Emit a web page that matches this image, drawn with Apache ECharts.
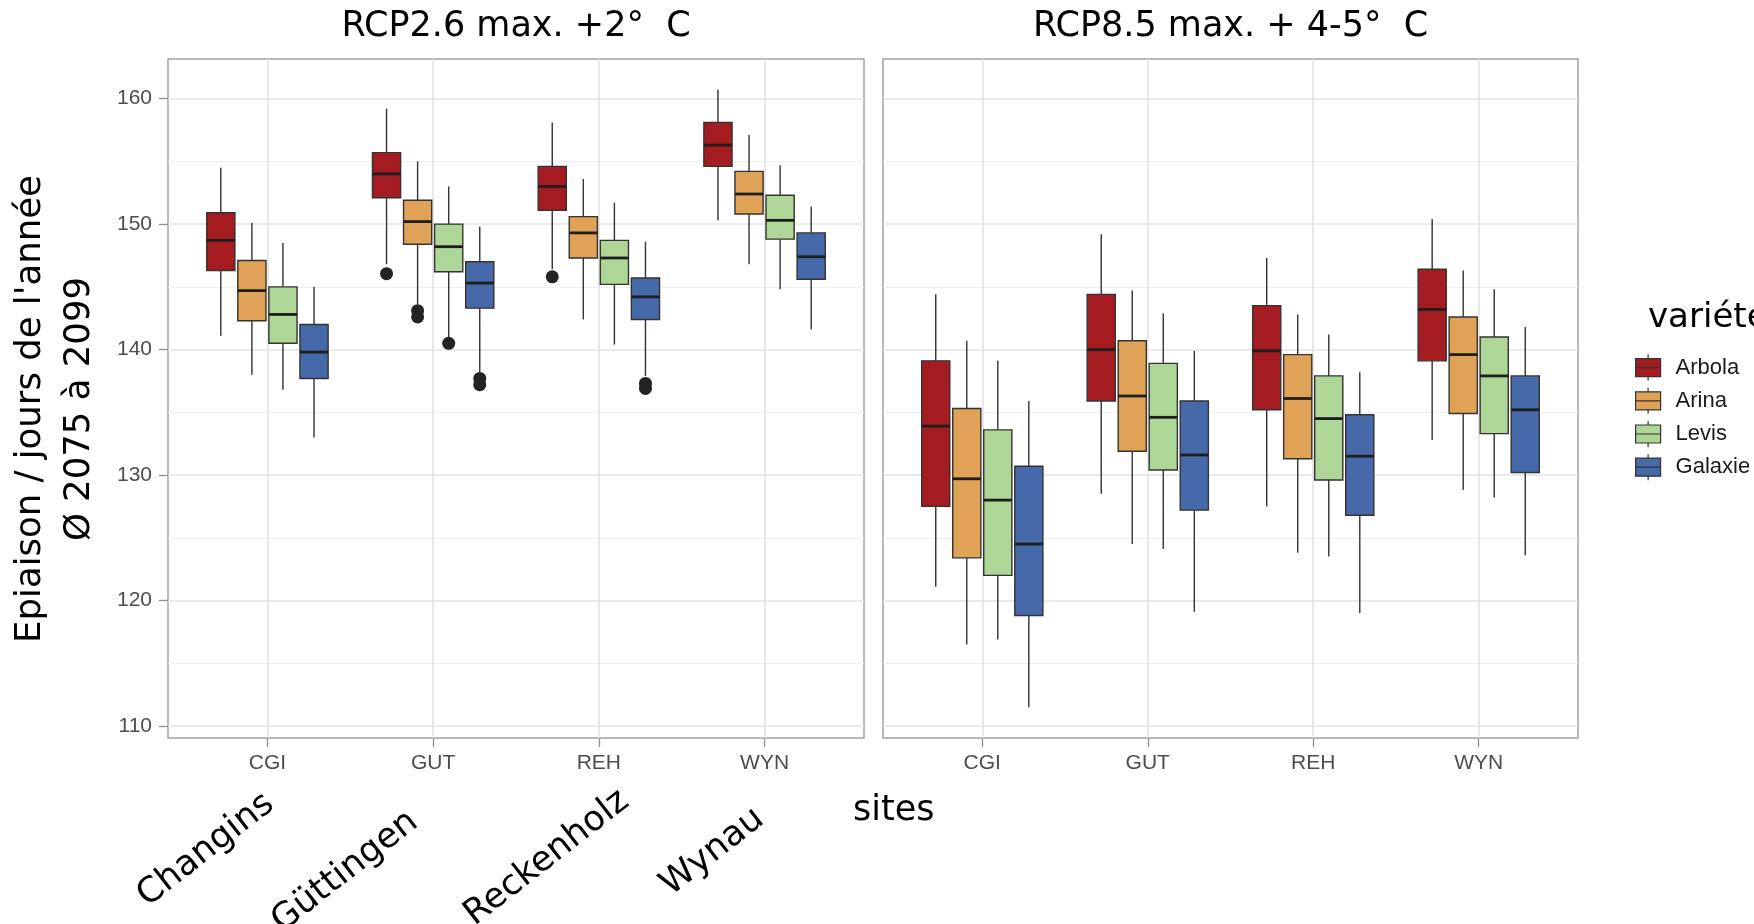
<!DOCTYPE html>
<html><head><meta charset="utf-8">
<script src="https://cdn.jsdelivr.net/npm/echarts@6/dist/echarts.min.js"></script>
<style>html,body{margin:0;padding:0;background:#fff}#c{width:1754px;height:924px}</style>
</head><body><div id="c"></div>
<script>
const sites = ['CGI','GUT','REH','WYN'];
const siteNames = ['Changins','Güttingen','Reckenholz','Wynau'];
const varieties = ['Arbola','Arina','Levis','Galaxie'];
const scenarioTitles = ['RCP2.6 max. +2°  C', 'RCP8.5 max. + 4-5°  C'];
const yTicks = [110,120,130,140,150,160];
const yMinorTicks = [115,125,135,145,155];
const xTitle = 'sites';
const legendTitle = 'variétés';
const yTitle = ["Epiaison / jours de l'année", 'Ø 2075 à 2099'];

// per site (CGI, GUT, REH, WYN): [lower whisker, Q1, median, Q3, upper whisker]
const rcp26Arbola  = [[141.1,146.3,148.7,150.9,154.5],[146.8,152.1,154.0,155.7,159.2],[146.4,151.1,153.0,154.6,158.1],[150.3,154.6,156.3,158.1,160.7]];
const rcp26Arina   = [[138.0,142.3,144.7,147.1,150.1],[143.6,148.4,150.2,151.9,155.0],[142.4,147.3,149.3,150.6,153.6],[146.8,150.8,152.4,154.2,157.1]];
const rcp26Levis   = [[136.8,140.5,142.8,145.0,148.5],[141.0,146.2,148.2,150.0,153.0],[140.4,145.2,147.3,148.7,151.7],[144.8,148.8,150.3,152.3,154.7]];
const rcp26Galaxie = [[133.0,137.7,139.8,142.0,145.0],[138.2,143.3,145.3,147.0,149.8],[137.9,142.4,144.2,145.7,148.6],[141.6,145.6,147.4,149.3,151.4]];
const rcp85Arbola  = [[121.1,127.5,133.9,139.1,144.4],[128.5,135.9,140.0,144.4,149.2],[127.5,135.2,139.9,143.5,147.3],[132.8,139.1,143.2,146.4,150.4]];
const rcp85Arina   = [[116.5,123.4,129.7,135.3,140.7],[124.5,131.9,136.3,140.7,144.7],[123.8,131.3,136.1,139.6,142.8],[128.8,134.9,139.6,142.6,146.3]];
const rcp85Levis   = [[116.9,122.0,128.0,133.6,139.1],[124.1,130.4,134.6,138.9,142.9],[123.5,129.6,134.5,137.9,141.2],[128.2,133.3,137.9,141.0,144.8]];
const rcp85Galaxie = [[111.5,118.8,124.5,130.7,135.9],[119.1,127.2,131.6,135.9,139.9],[119.0,126.8,131.5,134.8,138.2],[123.6,130.2,135.2,137.9,141.8]];
// outliers: [site, variety, value]
const rcp26Outliers = [['GUT','Arbola',146.05],['GUT','Arina',143.1],['GUT','Arina',142.6],['GUT','Levis',140.5],['GUT','Galaxie',137.7],['GUT','Galaxie',137.2],['REH','Arbola',145.8],['REH','Galaxie',137.3],['REH','Galaxie',136.9]];
const rcp85Outliers = [];
const colors = ['#a51c20','#e0a256','#aed697','#4669a9'];

const panels = [
  {title: scenarioTitles[0], boxes: [rcp26Arbola, rcp26Arina, rcp26Levis, rcp26Galaxie], outliers: rcp26Outliers},
  {title: scenarioTitles[1], boxes: [rcp85Arbola, rcp85Arina, rcp85Levis, rcp85Galaxie], outliers: rcp85Outliers}
];

// layout
const GRID_LEFT = [168, 883], GRID_W = [696, 695], GRID_TOP = 59, GRID_H = 679;
const DODGE = 0.1875, BOXW = 0.17;
const X_MIN = 0.4, X_MAX = 4.6;

// y extent like ggplot: data range expanded by 5%
let lo = Infinity, hi = -Infinity;
panels.forEach(p => { p.boxes.forEach(b => b.forEach(r => { lo = Math.min(lo, r[0]); hi = Math.max(hi, r[4]); })); p.outliers.forEach(o => { lo = Math.min(lo, o[2]); hi = Math.max(hi, o[2]); }); });
const pad = (hi - lo) * 0.05;
const Y_MIN = lo - pad, Y_MAX = hi + pad;

const FONT_TXT = '"DejaVu Sans", "Open Sans", sans-serif';
const FONT_AX = '"Liberation Sans", Arial, sans-serif';
const siteTicks = sites.map((s, i) => i + 1);

function boxRenderer(params, api) {
  const site = api.value(0), vi = api.value(1);
  const xc = site + (vi - 1.5) * DODGE;
  const pLo = api.coord([xc, api.value(2)]);
  const pQ1 = api.coord([xc, api.value(3)]);
  const pMd = api.coord([xc, api.value(4)]);
  const pQ3 = api.coord([xc, api.value(5)]);
  const pHi = api.coord([xc, api.value(6)]);
  const xl = api.coord([xc - BOXW / 2, api.value(4)])[0];
  const xr = api.coord([xc + BOXW / 2, api.value(4)])[0];
  const color = api.visual('color');
  return {type: 'group', children: [
    {type: 'line', shape: {x1: pLo[0], y1: pLo[1], x2: pQ1[0], y2: pQ1[1]}, style: {stroke: '#333', lineWidth: 1.4}},
    {type: 'line', shape: {x1: pQ3[0], y1: pQ3[1], x2: pHi[0], y2: pHi[1]}, style: {stroke: '#333', lineWidth: 1.4}},
    {type: 'rect', shape: {x: xl, y: pQ3[1], width: xr - xl, height: pQ1[1] - pQ3[1]}, style: {fill: color, stroke: '#333', lineWidth: 1.4}},
    {type: 'line', shape: {x1: xl, y1: pMd[1], x2: xr, y2: pMd[1]}, style: {stroke: '#1e1e1e', lineWidth: 2.8}}
  ]};
}

const grid = [], xAxis = [], yAxis = [], series = [];
panels.forEach((p, pi) => {
  grid.push({left: GRID_LEFT[pi], top: GRID_TOP, width: GRID_W[pi], height: GRID_H, show: true, borderColor: '#a3a3a3', borderWidth: 1.5, containLabel: false});
  const xBase = xAxis.length, yBase = yAxis.length;
  xAxis.push({type: 'value', gridIndex: pi, min: X_MIN, max: X_MAX, position: 'bottom',
    axisLine: {show: false}, splitLine: {show: false},
    axisTick: {show: true, inside: true, length: GRID_H, customValues: siteTicks, lineStyle: {color: '#e3e3e3', width: 1.6}},
    axisLabel: {show: true, customValues: siteTicks, formatter: v => sites[Math.round(v) - 1], margin: 15, fontSize: 21, color: '#4d4d4d', fontFamily: FONT_AX}});
  xAxis.push({type: 'value', gridIndex: pi, min: X_MIN, max: X_MAX, position: 'bottom',
    axisLine: {show: false}, splitLine: {show: false}, axisLabel: {show: false},
    axisTick: {show: true, inside: false, length: 9, customValues: siteTicks, lineStyle: {color: '#8f8f8f', width: 1.3}}});
  yAxis.push({type: 'value', gridIndex: pi, min: Y_MIN, max: Y_MAX, position: 'left',
    axisLine: {show: false}, splitLine: {show: false},
    axisTick: {show: true, inside: true, length: GRID_W[pi], customValues: yTicks, lineStyle: {color: '#e3e3e3', width: 1.6}},
    axisLabel: {show: pi === 0, customValues: yTicks, margin: 16, fontSize: 21, color: '#4d4d4d', fontFamily: FONT_AX}});
  yAxis.push({type: 'value', gridIndex: pi, min: Y_MIN, max: Y_MAX, position: 'left',
    axisLine: {show: false}, splitLine: {show: false}, axisLabel: {show: false},
    axisTick: {show: true, inside: true, length: GRID_W[pi], customValues: yMinorTicks, lineStyle: {color: '#efefef', width: 1.2}}});
  if (pi === 0) {
    yAxis.push({type: 'value', gridIndex: pi, min: Y_MIN, max: Y_MAX, position: 'left',
      axisLine: {show: false}, splitLine: {show: false}, axisLabel: {show: false},
      axisTick: {show: true, inside: false, length: 9, customValues: yTicks, lineStyle: {color: '#8f8f8f', width: 1.3}}});
  }
  p.boxes.forEach((rows, vi) => {
    series.push({
      type: 'custom', name: varieties[vi], xAxisIndex: xBase, yAxisIndex: yBase, z: 3,
      itemStyle: {color: colors[vi]},
      renderItem: boxRenderer,
      encode: {x: 0, y: [2, 3, 4, 5, 6]},
      data: rows.map((r, si) => [si + 1, vi, r[0], r[1], r[2], r[3], r[4]])
    });
  });
  if (p.outliers.length) {
    series.push({
      type: 'scatter', name: 'outliers', xAxisIndex: xBase, yAxisIndex: yBase, z: 4,
      symbolSize: 13, itemStyle: {color: '#232323', opacity: 1}, silent: true,
      data: p.outliers.map(o => [sites.indexOf(o[0]) + 1 + (varieties.indexOf(o[1]) - 1.5) * DODGE, o[2]])
    });
  }
});

const graphic = [];
panels.forEach((p, pi) => {
  graphic.push({type: 'text', x: GRID_LEFT[pi] + GRID_W[pi] / 2, y: 27,
    style: {text: p.title, fontSize: 35, fontFamily: FONT_TXT, fill: '#000', align: 'center', verticalAlign: 'middle'}});
});
graphic.push({type: 'text', x: 31, y: 409, rotation: Math.PI / 2,
  style: {text: yTitle[0], fontSize: 35.5, fontFamily: FONT_TXT, fill: '#000', align: 'center', verticalAlign: 'middle'}});
graphic.push({type: 'text', x: 80, y: 409, rotation: Math.PI / 2,
  style: {text: yTitle[1], fontSize: 35.5, fontFamily: FONT_TXT, fill: '#000', align: 'center', verticalAlign: 'middle'}});
const siteAnchors = [[270, 800], [414, 818], [625, 797], [760, 815]];
siteNames.forEach((n, i) => {
  graphic.push({type: 'text', x: siteAnchors[i][0], y: siteAnchors[i][1], rotation: 38 * Math.PI / 180,
    style: {text: n, fontSize: 35, fontFamily: FONT_TXT, fill: '#000', align: 'right', verticalAlign: 'middle'}});
});
graphic.push({type: 'text', x: 853, y: 811, style: {text: xTitle, fontSize: 35, fontFamily: FONT_TXT, fill: '#000', align: 'left', verticalAlign: 'middle'}});
graphic.push({type: 'text', x: 1648, y: 318, style: {text: legendTitle, fontSize: 34, fontFamily: FONT_TXT, fill: '#000', align: 'left', verticalAlign: 'middle'}});

const chart = echarts.init(document.getElementById('c'), null, {renderer: 'canvas'});
chart.setOption({
  animation: false,
  backgroundColor: '#fff',
  grid, xAxis, yAxis, series, graphic,
  legend: {
    orient: 'vertical', left: 1635, top: 354, padding: 0,
    itemWidth: 25, itemHeight: 26, itemGap: 6,
    data: varieties.map(n => ({name: n, icon: 'path://M0,4H25V22H0Z M0,13H25 M12.5,0V4 M12.5,22V26'})),
    itemStyle: {borderColor: '#333', borderWidth: 1.2},
    textStyle: {fontSize: 22, color: '#1a1a1a', fontFamily: FONT_AX, padding: [0, 0, 0, 10]}
  }
});
</script></body></html>
